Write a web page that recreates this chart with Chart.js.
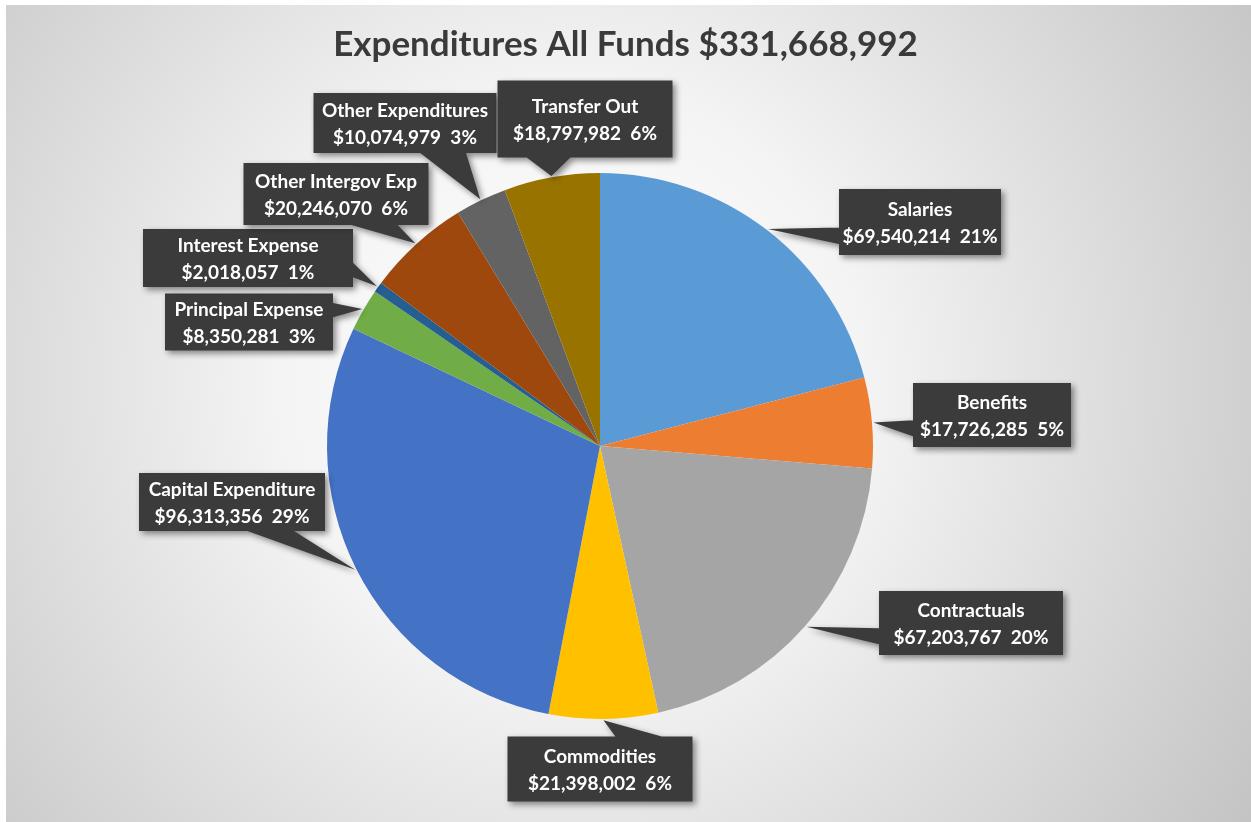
<!DOCTYPE html>
<html>
<head>
<meta charset="utf-8">
<script src="https://cdn.jsdelivr.net/npm/chart.js@4.4.1/dist/chart.umd.min.js"></script>
<style>
  html, body { margin: 0; padding: 0; background: #fff; }
  #wrap { width: 1251px; height: 822px; }
</style>
</head>
<body>
<div id="wrap"><canvas id="grafico" width="1251" height="822"></canvas></div>
<script>
// Dados
const categorias = ["Salaries", "Benefits", "Contractuals", "Commodities", "Capital Expenditure",
  "Principal Expense", "Interest Expense", "Other Intergov Exp", "Other Expenditures", "Transfer Out"];
const valores = [69540214, 17726285, 67203767, 21398002, 96313356, 8350281, 2018057, 20246070, 10074979, 18797982];
const cores = ["#5B9BD5", "#ED7D31", "#A5A5A5", "#FFC000", "#4472C4", "#70AD47", "#255E91", "#9E480E", "#636363", "#997300"];
const titulo = "Expenditures All Funds $331,668,992";

// posição das caixas (centro relativo ao centro da pizza, largura, altura)
const caixas = [
  [320, -224, 162, 66],
  [392, -31, 158, 64],
  [371, 177, 184, 64],
  [0, 323, 185, 65],
  [-368, 56, 186, 58],
  [-351, -124, 168, 57],
  [-352, -188, 210, 58],
  [-264, -252, 185, 62],
  [-195, -323, 183, 60],
  [-15, -327, 175, 77]
];

const total = valores.reduce((a, b) => a + b, 0);

// Fundo com gradiente + título
const fundo = {
  id: 'fundo',
  beforeDraw(chart) {
    const c = chart.ctx;
    c.save();
    c.fillStyle = '#fff';
    c.fillRect(0, 0, chart.width, chart.height);
    const g = c.createRadialGradient(570, 380, 0, 570, 380, 830);
    g.addColorStop(0, '#ffffff');
    g.addColorStop(0.35, '#f4f4f4');
    g.addColorStop(1, '#c2c2c2');
    c.fillStyle = g;
    c.fillRect(6, 5, chart.width - 6, chart.height - 5);

    c.fillStyle = '#3a3a3a';
    c.font = 'bold 35px Lato';
    c.textAlign = 'center';
    c.textBaseline = 'middle';
    c.fillText(titulo, chart.width / 2, 45);
    c.restore();
  }
};

// Rótulos tipo balão (callout)
const baloes = {
  id: 'baloes',
  afterDatasetsDraw(chart) {
    const c = chart.ctx;
    const arcos = chart.getDatasetMeta(0).data;
    arcos.forEach((arc, i) => {
      const meio = (arc.startAngle + arc.endAngle) / 2;
      const r = arc.outerRadius * 1.005;
      const tx = arc.x + Math.cos(meio) * r;
      const ty = arc.y + Math.sin(meio) * r;
      const [ox, oy, w, h] = caixas[i];
      const cx = arc.x + ox, cy = arc.y + oy;
      const x0 = cx - w / 2, y0 = cy - h / 2;

      // base da ponta (lógica do wedgeRectCallout)
      const dx = tx - cx, dy = ty - cy;
      let p1, p2;
      if (Math.abs(dy) > Math.abs(dx * h / w)) {
        const a = dx > 0 ? 7 : 2, b = dx > 0 ? 10 : 5;
        const yy = dy > 0 ? y0 + h : y0;
        p1 = [x0 + w * a / 12, yy];
        p2 = [x0 + w * b / 12, yy];
      } else {
        const a = dy > 0 ? 7 : 2, b = dy > 0 ? 10 : 5;
        const xx = dx > 0 ? x0 + w : x0;
        p1 = [xx, y0 + h * a / 12];
        p2 = [xx, y0 + h * b / 12];
      }

      c.save();
      c.shadowColor = 'rgba(0,0,0,0.45)';
      c.shadowBlur = 6;
      c.shadowOffsetX = 3;
      c.shadowOffsetY = 3;
      c.fillStyle = '#3b3b3b';
      c.beginPath();
      c.rect(x0, y0, w, h);
      c.moveTo(p1[0], p1[1]);
      c.lineTo(tx, ty);
      c.lineTo(p2[0], p2[1]);
      c.closePath();
      c.fill('nonzero');
      c.restore();

      c.save();
      c.fillStyle = '#ffffff';
      c.font = 'bold 19px Lato';
      c.textAlign = 'center';
      c.textBaseline = 'alphabetic';
      const pct = Math.round(valores[i] / total * 100);
      c.fillText(categorias[i], cx, cy - 6);
      c.fillText('$' + valores[i].toLocaleString('en-US') + '  ' + pct + '%', cx, cy + 21);
      c.restore();
    });
  }
};

const ctx = document.getElementById('grafico').getContext('2d');
new Chart(ctx, {
  type: 'pie',
  data: {
    labels: categorias,
    datasets: [{
      data: valores,
      backgroundColor: cores,
      borderWidth: 0
    }]
  },
  options: {
    responsive: false,
    animation: false,
    layout: { padding: { top: 173, bottom: 103, left: 100, right: 151 } },
    plugins: {
      legend: { display: false },
      tooltip: { enabled: false },
      title: { display: false }
    }
  },
  plugins: [fundo, baloes]
});
</script>
</body>
</html>
